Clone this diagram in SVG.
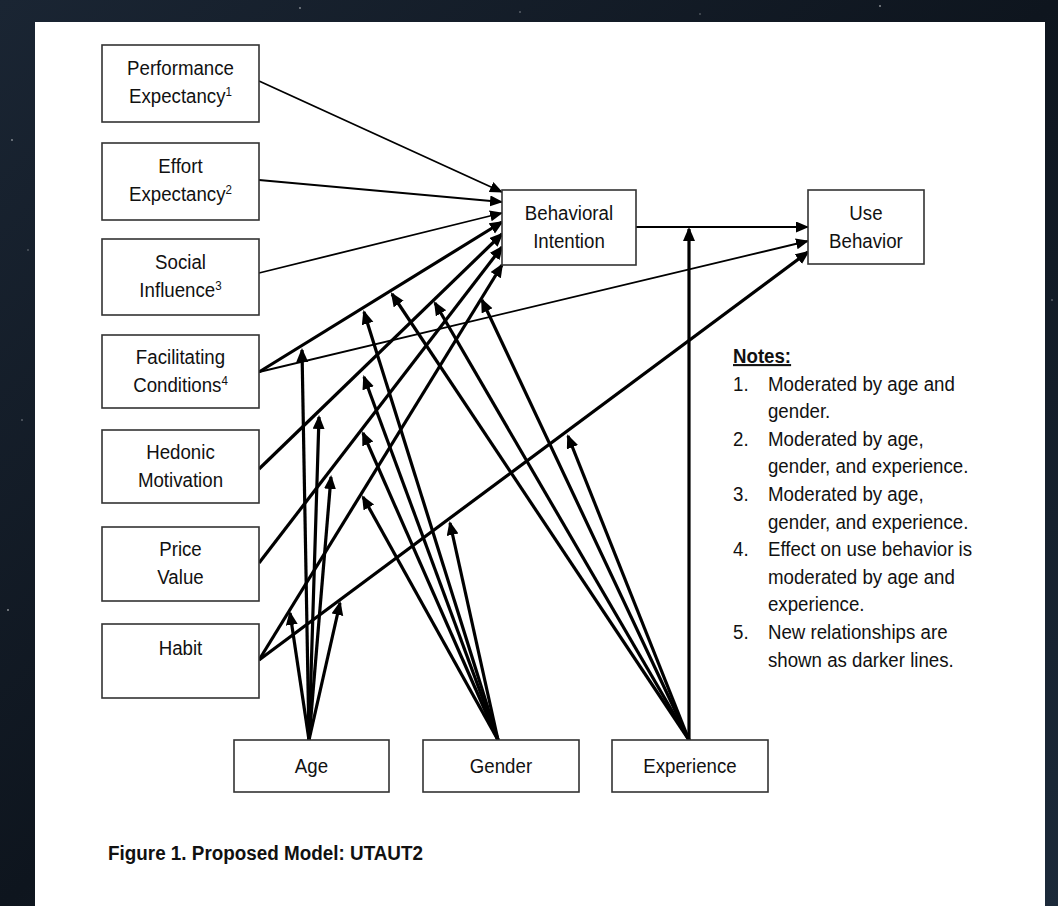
<svg xmlns="http://www.w3.org/2000/svg" width="1058" height="906" viewBox="0 0 1058 906">
<defs>
<linearGradient id="sky" x1="0" y1="0" x2="1" y2="1">
<stop offset="0" stop-color="#1a2533"/>
<stop offset="0.5" stop-color="#0e151e"/>
<stop offset="1" stop-color="#1c2a3a"/>
</linearGradient>
<marker id="ah" markerUnits="userSpaceOnUse" markerWidth="14" markerHeight="12" refX="12" refY="5.5" orient="auto">
<path d="M0,0 L13,5.5 L0,11 z" fill="#000"/>
</marker>
<marker id="ahb" markerUnits="userSpaceOnUse" markerWidth="15" markerHeight="13" refX="12" refY="6" orient="auto">
<path d="M0,0 L14,6 L0,12 z" fill="#000"/>
</marker>
<style>
.box{fill:#fff;stroke:#333;stroke-width:1.6}
.t{font-family:"Liberation Sans",Arial,sans-serif;font-size:21px;fill:#111;text-anchor:middle}
.n{font-family:"Liberation Sans",Arial,sans-serif;font-size:21px;fill:#111}
.thin{stroke:#000;stroke-width:1.8;fill:none;marker-end:url(#ah)}
.thick{stroke:#000;stroke-width:3.2;fill:none;marker-end:url(#ahb)}
.sup{font-size:13px}
</style>
</defs>
<rect x="0" y="0" width="1058" height="906" fill="url(#sky)"/>
<g fill="#fff" opacity="0.5">
<circle cx="12" cy="140" r="0.9"/><circle cx="22" cy="420" r="0.8"/><circle cx="8" cy="610" r="1"/>
<circle cx="300" cy="8" r="0.9"/><circle cx="520" cy="12" r="0.8"/><circle cx="880" cy="6" r="1"/>
<circle cx="1052" cy="300" r="0.8"/><circle cx="28" cy="250" r="0.7"/><circle cx="700" cy="14" r="0.7"/>
</g>
<rect x="35" y="22" width="1010" height="884" fill="#fff"/>

<g id="connectors">
<line class="thin" x1="259" y1="81" x2="502" y2="192"/>
<line class="thin" x1="259" y1="180" x2="502" y2="202"/>
<line class="thin" x1="259" y1="273" x2="502" y2="213"/>
<line class="thin" x1="259" y1="372" x2="808" y2="241"/>
<line class="thin" x1="636" y1="227" x2="808" y2="227"/>
<line class="thick" x1="259" y1="372" x2="502" y2="222"/>
<line class="thick" x1="259" y1="469" x2="502" y2="234"/>
<line class="thick" x1="259" y1="563" x2="502" y2="247"/>
<line class="thick" x1="259" y1="660" x2="502" y2="265"/>
<line class="thick" x1="259" y1="660" x2="808" y2="252"/>
<line class="thick" x1="309" y1="740" x2="302" y2="350"/>
<line class="thick" x1="309" y1="740" x2="319" y2="417"/>
<line class="thick" x1="309" y1="740" x2="331" y2="477"/>
<line class="thick" x1="309" y1="740" x2="290" y2="613"/>
<line class="thick" x1="309" y1="740" x2="340" y2="603"/>
<line class="thick" x1="498" y1="740" x2="364" y2="312"/>
<line class="thick" x1="498" y1="740" x2="364" y2="377"/>
<line class="thick" x1="498" y1="740" x2="363" y2="433"/>
<line class="thick" x1="498" y1="740" x2="363" y2="497"/>
<line class="thick" x1="498" y1="740" x2="450" y2="523"/>
<line class="thick" x1="689" y1="740" x2="392" y2="294"/>
<line class="thick" x1="689" y1="740" x2="435" y2="303"/>
<line class="thick" x1="689" y1="740" x2="482" y2="300"/>
<line class="thick" x1="689" y1="740" x2="568" y2="436"/>
<line class="thick" x1="689" y1="740" x2="689" y2="229"/>
</g>

<g id="performance-expectancy">
<rect class="box" x="102" y="45" width="157" height="77"/>
<text class="t" transform="scale(0.89 1)" x="202.8" y="75">Performance</text>
<text class="t" transform="scale(0.89 1)" x="202.8" y="103">Expectancy<tspan class="sup" dy="-7">1</tspan></text>
</g>
<g id="effort-expectancy">
<rect class="box" x="102" y="143" width="157" height="77"/>
<text class="t" transform="scale(0.89 1)" x="202.8" y="173">Effort</text>
<text class="t" transform="scale(0.89 1)" x="202.8" y="201">Expectancy<tspan class="sup" dy="-7">2</tspan></text>
</g>
<g id="social-influence">
<rect class="box" x="102" y="239" width="157" height="76"/>
<text class="t" transform="scale(0.89 1)" x="202.8" y="269">Social</text>
<text class="t" transform="scale(0.89 1)" x="202.8" y="297">Influence<tspan class="sup" dy="-7">3</tspan></text>
</g>
<g id="facilitating-conditions">
<rect class="box" x="102" y="335" width="157" height="73"/>
<text class="t" transform="scale(0.89 1)" x="202.8" y="364">Facilitating</text>
<text class="t" transform="scale(0.89 1)" x="202.8" y="392">Conditions<tspan class="sup" dy="-7">4</tspan></text>
</g>
<g id="hedonic-motivation">
<rect class="box" x="102" y="430" width="157" height="73"/>
<text class="t" transform="scale(0.89 1)" x="202.8" y="459">Hedonic</text>
<text class="t" transform="scale(0.89 1)" x="202.8" y="487">Motivation</text>
</g>
<g id="price-value">
<rect class="box" x="102" y="527" width="157" height="74"/>
<text class="t" transform="scale(0.89 1)" x="202.8" y="556">Price</text>
<text class="t" transform="scale(0.89 1)" x="202.8" y="584">Value</text>
</g>
<g id="habit">
<rect class="box" x="102" y="624" width="157" height="74"/>
<text class="t" transform="scale(0.89 1)" x="202.8" y="655">Habit</text>
</g>
<g id="behavioral-intention">
<rect class="box" x="502" y="190" width="134" height="75"/>
<text class="t" transform="scale(0.89 1)" x="639.3" y="220">Behavioral</text>
<text class="t" transform="scale(0.89 1)" x="639.3" y="248">Intention</text>
</g>
<g id="use-behavior">
<rect class="box" x="808" y="190" width="116" height="74"/>
<text class="t" transform="scale(0.89 1)" x="973" y="220">Use</text>
<text class="t" transform="scale(0.89 1)" x="973" y="248">Behavior</text>
</g>
<g id="age">
<rect class="box" x="234" y="740" width="155" height="52"/>
<text class="t" transform="scale(0.89 1)" x="350" y="773">Age</text>
</g>
<g id="gender">
<rect class="box" x="423" y="740" width="156" height="52"/>
<text class="t" transform="scale(0.89 1)" x="562.9" y="773">Gender</text>
</g>
<g id="experience">
<rect class="box" x="612" y="740" width="156" height="52"/>
<text class="t" transform="scale(0.89 1)" x="775.3" y="773">Experience</text>
</g>

<g id="notes" class="n" transform="scale(0.89 1)">
<text x="823.6" y="363" font-weight="bold" text-decoration="underline">Notes:</text>
<text x="823.6" y="390.6">1.</text><text x="862.9" y="390.6">Moderated by age and</text>
<text x="862.9" y="418.2">gender.</text>
<text x="823.6" y="445.8">2.</text><text x="862.9" y="445.8">Moderated by age,</text>
<text x="862.9" y="473.4">gender, and experience.</text>
<text x="823.6" y="501">3.</text><text x="862.9" y="501">Moderated by age,</text>
<text x="862.9" y="528.6">gender, and experience.</text>
<text x="823.6" y="556.2">4.</text><text x="862.9" y="556.2">Effect on use behavior is</text>
<text x="862.9" y="583.8">moderated by age and</text>
<text x="862.9" y="611.4">experience.</text>
<text x="823.6" y="639">5.</text><text x="862.9" y="639">New relationships are</text>
<text x="862.9" y="666.6">shown as darker lines.</text>
</g>

<g id="caption">
<text x="108" y="860" font-family="Liberation Sans,Arial,sans-serif" font-size="20" font-weight="bold" fill="#111" textLength="315" lengthAdjust="spacingAndGlyphs">Figure 1. Proposed Model: UTAUT2</text>
</g>
</svg>
